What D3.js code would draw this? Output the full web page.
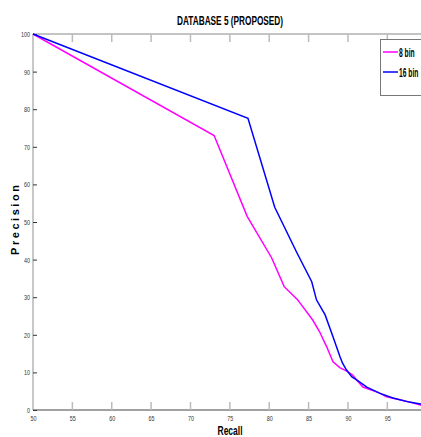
<!DOCTYPE html>
<html><head><meta charset="utf-8">
<script src="https://cdn.jsdelivr.net/npm/d3@7"></script>
<style>
body{margin:0;background:#fff;}
svg{display:block;}
text{font-family:"Liberation Sans",Arial,sans-serif;}
</style></head>
<body>
<svg id="c" width="421" height="437"></svg>
<script>
const title = "DATABASE 5 (PROPOSED)";
const xLabel = "Recall";
const yLabel = "Precision";
const xTicks = [50,55,60,65,70,75,80,85,90,95];
const yTicks = [0,10,20,30,40,50,60,70,80,90,100];
const seriesNames = ["8 bin","16 bin"];
const seriesColors = ["#ff00ff","#0000ff"];
const recall8 = [50,73,77.2,80.3,81.9,83.6,83.9,85.5,86.4,87.3,88.1,89.0,89.8,90.6,91.1,91.9,93.7,94.9,96.6,98.2,99.2,100];
const prec8   = [100,73,51.5,40.5,32.8,29.3,28.5,24,20.8,16.8,12.8,11.2,10.4,9.3,8,6.1,4.8,3.5,2.7,1.9,1.3,1.1];
const recall16 = [50,77.3,80.7,83.5,85.4,86.0,87.1,88.1,89.0,89.3,89.8,90.5,91.1,92.4,94.0,95.7,97.8,99.2,100];
const prec16   = [100,77.6,53.9,41.9,34.1,29.3,25.3,19.5,14.1,12.5,10.7,8.8,8,6.1,4.5,3.2,2.1,1.6,1.4];

const svg = d3.select("#c");
const L = 33, T = 34, B = 410;
const x = d3.scaleLinear().domain([50,100]).range([L, L + 50*7.874]);
const y = d3.scaleLinear().domain([0,100]).range([B, T]);

// title
svg.append("text").attr("x",230).attr("y",25).attr("text-anchor","middle")
  .attr("font-size",13).attr("font-weight","bold").attr("fill","#000")
  .attr("textLength",106).attr("lengthAdjust","spacingAndGlyphs").text(title);

// frame
svg.append("line").attr("x1",L).attr("x2",L).attr("y1",T).attr("y2",B)
  .attr("stroke","#c8c8c8").attr("stroke-width",2);
svg.append("line").attr("x1",L).attr("x2",421).attr("y1",T).attr("y2",T)
  .attr("stroke","#888").attr("stroke-width",1);

// x axis
const xAxis = d3.axisBottom(x).tickValues(xTicks).tickSize(0).tickPadding(5).tickFormat(d3.format("d"));
const gx = svg.append("g").attr("transform",`translate(0,${B})`).call(xAxis);
gx.select(".domain").remove();
gx.selectAll(".tick text").attr("font-size",8).attr("fill","#333")
  .attr("textLength",6).attr("lengthAdjust","spacingAndGlyphs");
svg.append("line").attr("x1",L).attr("x2",421).attr("y1",B).attr("y2",B)
  .attr("stroke","#444").attr("stroke-width",1.2);
xTicks.slice(1).forEach(v=>{
  svg.append("line").attr("x1",x(v)).attr("x2",x(v)).attr("y1",B).attr("y2",B-8)
    .attr("stroke","#bbb").attr("stroke-width",1.5);
  svg.append("line").attr("x1",x(v)).attr("x2",x(v)).attr("y1",T).attr("y2",T+8)
    .attr("stroke","#bbb").attr("stroke-width",1.5);
});

// y axis
const yAxis = d3.axisLeft(y).tickValues(yTicks).tickSize(-4).tickPadding(3).tickFormat(d3.format("d"));
const gy = svg.append("g").attr("transform",`translate(${L},0)`).call(yAxis);
gy.select(".domain").remove();
gy.selectAll(".tick line").attr("stroke","#333");
gy.selectAll(".tick text").attr("font-size",8).attr("fill","#333")
  .attr("textLength",d=>String(d).length*3).attr("lengthAdjust","spacingAndGlyphs");

// axis labels
svg.append("text").attr("x",230).attr("y",435).attr("text-anchor","middle")
  .attr("font-size",12).attr("font-weight","bold").attr("fill","#000")
  .attr("textLength",25).attr("lengthAdjust","spacingAndGlyphs").text(xLabel);
svg.append("text").attr("transform","translate(19,220) rotate(-90)").attr("text-anchor","middle")
  .attr("font-size",11).attr("font-weight","bold").attr("fill","#000")
  .attr("textLength",70).attr("lengthAdjust","spacing").text(yLabel);

// lines
const line = d3.line().x(d=>x(d[0])).y(d=>y(d[1]));
const data = [d3.zip(recall8,prec8), d3.zip(recall16,prec16)];
data.forEach((d,i)=>{
  svg.append("path").datum(d).attr("d",line).attr("fill","none")
    .attr("stroke",seriesColors[i]).attr("stroke-width",1.5);
});

// legend
svg.append("rect").attr("x",380.5).attr("y",39.5).attr("width",60).attr("height",56)
  .attr("fill","#fff").attr("stroke","#777").attr("stroke-width",1);
seriesNames.forEach((n,i)=>{
  const yy = 52 + i*20;
  svg.append("line").attr("x1",383).attr("x2",398).attr("y1",yy).attr("y2",yy)
    .attr("stroke",seriesColors[i]).attr("stroke-width",1.5);
  svg.append("text").attr("transform",`translate(399,${yy+4.5}) scale(0.56,1)`)
    .attr("font-size",12).attr("font-weight","bold").attr("fill","#000").text(n);
});
</script>
</body></html>
